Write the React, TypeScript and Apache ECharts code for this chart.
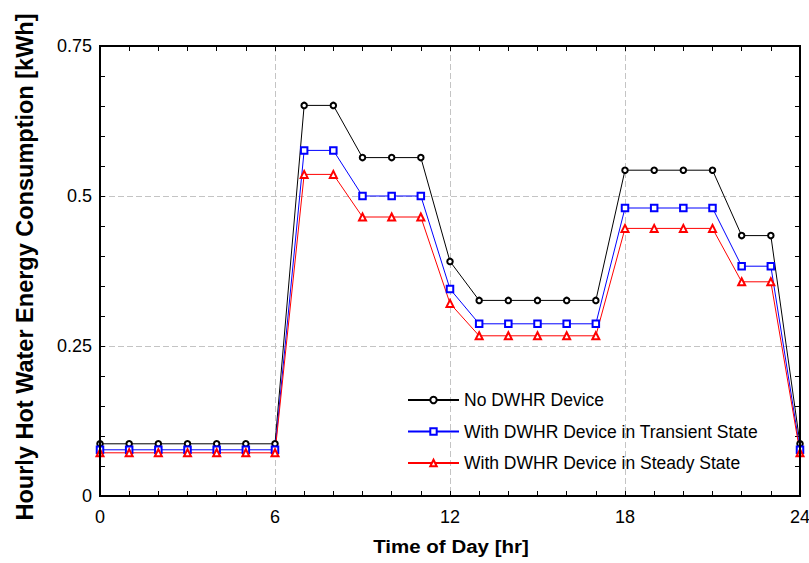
import React, { useEffect, useRef } from "react";
import * as echarts from "echarts";

const hours = Array.from({ length: 25 }, (_, i) => i);
const noDevice = [0.087, 0.087, 0.087, 0.087, 0.087, 0.087, 0.087, 0.651, 0.651, 0.564, 0.564, 0.564, 0.391, 0.326, 0.326, 0.326, 0.326, 0.326, 0.543, 0.543, 0.543, 0.543, 0.434, 0.434, 0.087];
const transient = [0.077, 0.077, 0.077, 0.077, 0.077, 0.077, 0.077, 0.576, 0.576, 0.5, 0.5, 0.5, 0.345, 0.287, 0.287, 0.287, 0.287, 0.287, 0.48, 0.48, 0.48, 0.48, 0.383, 0.383, 0.077];
const steady = [0.072, 0.072, 0.072, 0.072, 0.072, 0.072, 0.072, 0.536, 0.536, 0.465, 0.465, 0.465, 0.321, 0.267, 0.267, 0.267, 0.267, 0.267, 0.446, 0.446, 0.446, 0.446, 0.357, 0.357, 0.072];
const seriesNames = ["No DWHR Device", "With DWHR Device in Transient State", "With DWHR Device in Steady State"];
const xTitle = "Time of Day [hr]";
const yTitle = "Hourly Hot Water Energy Consumption [kWh]";

const FONT = "Arial, 'Liberation Sans', sans-serif";

export default function App() {
  const ref = useRef<HTMLDivElement>(null);
  useEffect(() => {
    if (!ref.current) return;
    const chart = echarts.init(ref.current, null, { renderer: "svg" });
    const mkAxisLine = () => ({ show: true, onZero: false, lineStyle: { color: "#000", width: 2 } });
    const mkTick = () => ({ show: true, inside: true, length: 5, lineStyle: { color: "#000", width: 1 } });
    const xBase = () => ({
      type: "value" as const, min: 0, max: 24, interval: 6,
      axisLine: mkAxisLine(), axisTick: mkTick(),
      minorTick: { show: true, splitNumber: 6, length: 5, lineStyle: { color: "#000", width: 1 } },
    });
    const yBase = () => ({
      type: "value" as const, min: 0, max: 0.75, interval: 0.25,
      axisLine: mkAxisLine(), axisTick: mkTick(),
      minorTick: { show: true, splitNumber: 5, length: 5, lineStyle: { color: "#000", width: 1 } },
    });
    const grid = () => ({ show: true, lineStyle: { color: "#c4c4c4", type: [6, 3], width: 1 } });
    const mk = (name: string, data: number[], color: string, symbol: string, size: number) => ({
      name, type: "line", xAxisIndex: 0, yAxisIndex: 0,
      data: hours.map((h, i) => [h, data[i]]),
      symbol, symbolSize: size, showSymbol: true,
      lineStyle: { color, width: 1 },
      itemStyle: { color, borderColor: color, borderWidth: 1 },
      emphasis: { disabled: true },
      z: 3,
    });
    chart.setOption({
      animation: false,
      backgroundColor: "#fff",
      grid: {
        left: 100, right: 9, top: 46, bottom: 67,
        outerBoundsMode: "none", containLabel: false,
        show: true, borderColor: "#000", borderWidth: 2, backgroundColor: "transparent", z: 4,
      },
      xAxis: [
        {
          ...xBase(), position: "bottom",
          axisLabel: { color: "#000", fontSize: 18, fontFamily: FONT, margin: 12 },
          splitLine: grid(),
        },
        { ...xBase(), position: "top", axisLabel: { show: false }, splitLine: { show: false } },
      ],
      yAxis: [
        {
          ...yBase(), position: "left",
          axisLabel: { color: "#000", fontSize: 18, fontFamily: FONT, margin: 8 },
          splitLine: grid(),
        },
        { ...yBase(), position: "right", axisLabel: { show: false }, splitLine: { show: false } },
      ],
      legend: {
        orient: "vertical", left: 407, top: 391, padding: 0,
        itemWidth: 51, itemHeight: 8, itemGap: 13.5,
        textStyle: { color: "#000", fontSize: 17.5, fontFamily: FONT },
        data: seriesNames,
        selectedMode: false,
      },
      graphic: [
        {
          type: "text", x: 451, y: 547, scaleY: 0.88,
          style: { text: xTitle, font: `bold 20.5px ${FONT}`, fill: "#000", align: "center", verticalAlign: "middle" },
        },
        {
          type: "text", x: 25, y: 267, rotation: Math.PI / 2,
          style: { text: yTitle, font: `bold 23.5px ${FONT}`, fill: "#000", align: "center", verticalAlign: "middle" },
        },
      ],
      series: [
        mk(seriesNames[0], noDevice, "#000", "emptyCircle", 5.5),
        mk(seriesNames[1], transient, "#0000ff", "emptyRect", 6.5),
        mk(seriesNames[2], steady, "#ff0000", "emptyTriangle", 7),
      ],
    });
    return () => chart.dispose();
  }, []);
  return <div ref={ref} style={{ width: 809, height: 563, position: "absolute", left: 0, top: 0 }} />;
}
